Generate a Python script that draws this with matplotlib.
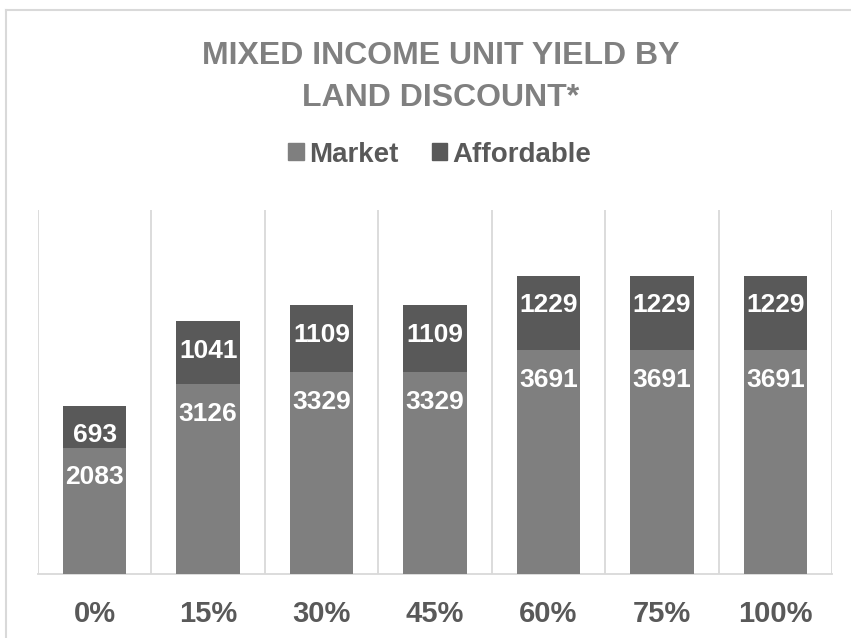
import numpy as np
import matplotlib
matplotlib.use("Agg")
import matplotlib.pyplot as plt
from matplotlib.patches import Patch
from matplotlib.lines import Line2D

# data
discounts = ["0%", "15%", "30%", "45%", "60%", "75%", "100%"]
market = [2083, 3126, 3329, 3329, 3691, 3691, 3691]
affordable = [693, 1041, 1109, 1109, 1229, 1229, 1229]

c_market = "#7f7f7f"
c_afford = "#595959"
c_grid = "#d9d9d9"
c_text = "#595959"

plt.rcParams['font.family'] = ['Liberation Sans', 'DejaVu Sans']

fig = plt.figure(figsize=(8.51, 6.38), dpi=100)
ax = fig.add_axes([38/851, 1-574/638, (832-38)/851, (574-210)/638])

x = np.arange(len(discounts))
b1 = ax.bar(x, market, width=0.56, color=c_market, zorder=3)
b2 = ax.bar(x, affordable, width=0.56, bottom=market, color=c_afford, zorder=3)

#data labels at inside end of each segment
for i in range(len(x)):
    ax.annotate(str(market[i]), (x[i], market[i]), xytext=(0, -21.5), textcoords="offset points",
                ha="center", va="center", color="white", fontsize=19, fontweight="bold", zorder=4)
    top = market[i] + affordable[i]
    ax.annotate(str(affordable[i]), (x[i], top), xytext=(0, -21.5), textcoords="offset points",
                ha="center", va="center", color="white", fontsize=19, fontweight="bold", zorder=4)

ax.set_xlim(-0.5, len(discounts) - 0.5)
ax.set_ylim(0, 6000)
# category gridlines between bars
for g in np.arange(-0.5, len(discounts), 1.0):
    ax.axvline(g, color=c_grid, lw=1.3, zorder=1)

for s in ["top", "right", "left"]:
    ax.spines[s].set_visible(False)
ax.spines["bottom"].set_color(c_grid)
ax.spines["bottom"].set_linewidth(1.3)
ax.set_yticks([])
ax.set_xticks(x)
ax.set_xticklabels(discounts, fontsize=21, fontweight="bold", color=c_text)
ax.tick_params(axis="x", length=0, pad=19)

fig.text(0.518, 1-77/638, "MIXED INCOME UNIT YIELD BY\nLAND DISCOUNT*", ha="center", va="center",
         fontsize=23, fontweight="bold", color="#808080", linespacing=1.5)

handles = [Patch(color=c_market, label="Market"), Patch(color=c_afford, label="Affordable")]
leg = fig.legend(handles=handles, loc="center", bbox_to_anchor=(0.517, 1-154.5/638), ncol=2,
                 frameon=False, prop={"size": 20, "weight": "bold"}, handlelength=0.55,
                 handleheight=0.55, handletextpad=0.2, columnspacing=1.2)
for t in leg.get_texts():
    t.set_color(c_text)

# chart area border (left and top edges visible)
fig.add_artist(Line2D([6/851, 6/851], [0, 1-10/638], transform=fig.transFigure, color=c_grid, lw=1.5))
fig.add_artist(Line2D([6/851, 1], [1-10/638, 1-10/638], transform=fig.transFigure, color=c_grid, lw=1.5))

fig.savefig("out.png", dpi=100)
